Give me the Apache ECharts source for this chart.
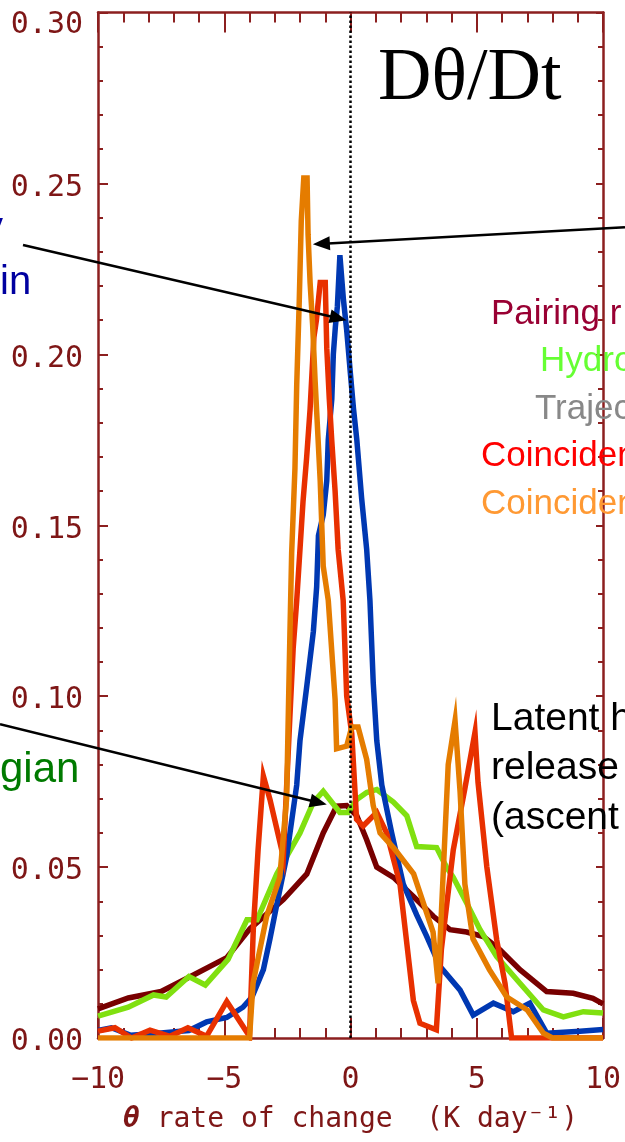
<!DOCTYPE html>
<html><head><meta charset="utf-8">
<script src="https://cdn.jsdelivr.net/npm/echarts@6/dist/echarts.min.js"></script>
<style>html,body{margin:0;padding:0;background:#fff;overflow:hidden}#c{width:625px;height:1142px}</style>
</head><body><div id="c"></div>
<script>
// ---- data ----
const maroonX = [-10,-8.8,-7.5,-6.2,-4.9,-3.98,-2.66,-1.73,-1.08,-0.55,-0.15,0.25,0.64,1.04,1.7,2.49,3.28,3.94,4.6,5.26,5.92,6.71,7.77,8.82,9.6,10];
const maroonY = [0.0085,0.0117,0.0136,0.0185,0.0235,0.032,0.0405,0.048,0.060,0.0678,0.068,0.065,0.058,0.050,0.047,0.0414,0.0356,0.0317,0.031,0.0297,0.0258,0.020,0.0136,0.0131,0.0116,0.0100];

const greenX = [-10,-8.8,-7.8,-7.3,-6.4,-5.75,-4.85,-4.1,-3.7,-2.92,-2.0,-1.47,-1.08,-0.42,-0.1,0.25,0.64,1.04,1.7,2.23,2.62,3.41,3.8,4.07,4.6,5.13,5.79,6.71,7.64,8.43,9.22,10];
const greenY = [0.0064,0.009,0.0126,0.012,0.018,0.0155,0.023,0.0346,0.0346,0.048,0.060,0.069,0.0722,0.066,0.066,0.0698,0.0718,0.0727,0.069,0.065,0.056,0.0557,0.050,0.047,0.0395,0.0317,0.0238,0.016,0.0082,0.0062,0.0077,0.0073];

const blueX = [-10,-9.47,-8.7,-7.5,-6.4,-5.7,-4.9,-4.26,-3.9,-3.45,-3.19,-2.92,-2.53,-2.13,-2.0,-1.73,-1.47,-1.34,-1.27,-1.08,-0.94,-0.88,-0.74,-0.68,-0.6,-0.52,-0.42,-0.28,-0.15,0,0.12,0.25,0.44,0.64,0.77,0.9,1.04,1.24,1.63,2.09,2.62,3.0,3.54,4.34,4.86,5.66,6.45,7.1,7.77,9.09,10];
const blueY = [0.0022,0.003,0.0008,0.0015,0.0022,0.0047,0.006,0.009,0.012,0.02,0.029,0.039,0.053,0.074,0.087,0.103,0.119,0.132,0.147,0.153,0.163,0.175,0.187,0.2,0.208,0.214,0.229,0.216,0.207,0.194,0.184,0.175,0.158,0.143,0.128,0.104,0.087,0.074,0.060,0.045,0.036,0.03,0.021,0.014,0.0067,0.0102,0.0077,0.0102,0.0014,0.002,0.0025];

const redX = [-10,-9.33,-8.67,-7.94,-7.15,-6.44,-5.7,-4.9,-4.0,-3.85,-3.66,-3.45,-3.19,-2.66,-2.4,-2.27,-2.13,-2.0,-1.88,-1.74,-1.6,-1.45,-1.35,-1.2,-1.0,-0.94,-0.84,-0.74,-0.61,-0.49,-0.29,-0.15,0.05,0.24,0.5,1.04,1.43,1.96,2.49,2.75,3.4,3.6,4.07,4.53,4.93,5.05,5.4,5.79,6.12,6.38,10];
const redY = [0.002,0.003,0.0,0.0023,0.0005,0.003,0.0005,0.0107,0.0005,0.0317,0.055,0.0766,0.0698,0.053,0.094,0.114,0.128,0.143,0.157,0.1695,0.184,0.205,0.21,0.221,0.221,0.2018,0.187,0.1745,0.16,0.143,0.128,0.10,0.089,0.064,0.062,0.066,0.060,0.045,0.011,0.0043,0.0024,0.026,0.055,0.073,0.0894,0.0748,0.050,0.0287,0.016,0.0,0.0];

const orangeX = [-10,-4.0,-3.86,-3.32,-2.8,-2.53,-2.4,-2.33,-2.2,-2.13,-2.03,-1.95,-1.85,-1.72,-1.68,-1.6,-1.5,-1.4,-1.2,-1.08,-0.88,-0.61,-0.55,-0.15,0.05,0.3,0.64,0.9,1.17,1.7,2.5,3.27,3.47,3.87,4.14,4.34,4.53,4.85,5.5,6.19,7.0,7.64,8.0,10];
const orangeY = [0,0,0.016,0.0356,0.047,0.07,0.118,0.142,0.1666,0.191,0.2155,0.239,0.2516,0.2516,0.235,0.221,0.2086,0.192,0.163,0.138,0.128,0.099,0.0846,0.0854,0.091,0.091,0.0815,0.068,0.060,0.0557,0.048,0.031,0.016,0.08,0.0928,0.072,0.045,0.029,0.020,0.012,0.0082,0.0014,0,0];

const xAxisName = '{t|\u03B8} rate of change  (K day\u207B\u00B9)';
const titleText = 'D\u03B8/Dt';
const legendLabels = ['Pairing r', 'Hydro', 'Trajec', 'Coinciden', 'Coinciden'];
const noteLines = ['Latent h', 'release', '(ascent'];
const leftLabels = ['y', 'in', 'gian'];
// annotation arrows in data coordinates (start, tip)
const arrowFrom = [[10.87, 0.2372], [-12.97, 0.232], [-13.88, 0.0918]];
const arrowTo   = [[-1.49, 0.2322], [-0.155, 0.2100], [-0.94, 0.0683]];

// ---- chart ----
const axisColor = '#8C1F1F';
const labelColor = '#7E1616';
const chart = echarts.init(document.getElementById('c'), null, {renderer: 'canvas'});
const pair = (xs, ys) => xs.map((x, i) => [x, ys[i]]);
const mkSeries = (name, xs, ys, color) => ({
  name, type: 'line', data: pair(xs, ys), showSymbol: false, symbol: 'none',
  lineStyle: {width: 5.5, color: color, join: 'miter'}, itemStyle: {color: color},
  silent: true, animation: false, xAxisIndex: 0, yAxisIndex: 0
});
const tickCommon = (len) => ({show: true, inside: true, length: len, lineStyle: {color: axisColor, width: 2}});
const minorCommon = (len) => ({show: true, splitNumber: 5, length: len, lineStyle: {color: axisColor, width: 2}});
const lineCommon = {show: true, onZero: false, lineStyle: {color: axisColor, width: 2.5}};
const minus = v => (v < 0 ? '\u2212' : '') + Math.abs(v);
const yFmt = v => v > 0.299 ? '{top|' + v.toFixed(2) + '}' : v.toFixed(2);

chart.setOption({
  animation: false,
  backgroundColor: '#fff',
  grid: {left: 98, right: 22, top: 12.5, bottom: 104, containLabel: false, outerBoundsMode: 'none'},
  xAxis: [
    {type: 'value', min: -10, max: 10, interval: 5, position: 'bottom',
     axisLine: lineCommon, axisTick: tickCommon(20), minorTick: minorCommon(10),
     splitLine: {show: false}, minorSplitLine: {show: false},
     axisLabel: {color: labelColor, fontFamily: 'DejaVu Sans Mono', fontSize: 30, margin: 27, formatter: minus},
     name: xAxisName, nameLocation: 'middle', nameGap: 68,
     nameTextStyle: {color: labelColor, fontFamily: 'DejaVu Sans Mono', fontSize: 28,
       rich: {t: {color: labelColor, fontFamily: 'DejaVu Sans Mono', fontSize: 28, fontWeight: 'bold', fontStyle: 'italic'}}}},
    {type: 'value', min: -10, max: 10, interval: 5, position: 'top',
     axisLine: lineCommon, axisTick: tickCommon(20), minorTick: minorCommon(10),
     splitLine: {show: false}, minorSplitLine: {show: false}, axisLabel: {show: false}}
  ],
  yAxis: [
    {type: 'value', min: 0, max: 0.3, interval: 0.05, position: 'left',
     axisLine: lineCommon, axisTick: tickCommon(10), minorTick: minorCommon(5),
     splitLine: {show: false}, minorSplitLine: {show: false},
     axisLabel: {color: labelColor, fontFamily: 'DejaVu Sans Mono', fontSize: 30, margin: 15,
       padding: [9, 0, 0, 0], formatter: yFmt,
       rich: {top: {color: labelColor, fontFamily: 'DejaVu Sans Mono', fontSize: 30, padding: [16, 0, 0, 0]}}}},
    {type: 'value', min: 0, max: 0.3, interval: 0.05, position: 'right',
     axisLine: lineCommon, axisTick: tickCommon(7), minorTick: minorCommon(5),
     splitLine: {show: false}, minorSplitLine: {show: false}, axisLabel: {show: false}}
  ],
  series: [
    mkSeries('Pairing', maroonX, maroonY, '#780000'),
    mkSeries('Hydro', greenX, greenY, '#80E010'),
    mkSeries('Blue', blueX, blueY, '#0038B2'),
    mkSeries('Red', redX, redY, '#E83000'),
    mkSeries('Orange', orangeX, orangeY, '#E57C00'),
    {name: 'zero', type: 'line', data: [], xAxisIndex: 0, yAxisIndex: 0, z: 10,
     markLine: {silent: true, animation: false, symbol: ['none', 'none'], label: {show: false},
       emphasis: {disabled: true},
       lineStyle: {color: '#000', type: [2.5, 2.5], width: 2.5, opacity: 1}, data: [{xAxis: 0}]}}
  ]
});

// ---- annotations ----
const g = [];
const sans = '"Liberation Sans", Arial, sans-serif';
const txt = (text, x, y, size, fill, family, align) => ({
  type: 'text', x: x, y: y, silent: true, z: 100,
  style: {text: text, fill: fill, font: size + 'px ' + (family || sans), align: align || 'left', verticalAlign: 'middle'}
});
g.push(txt(titleText, 378, 80, 74, '#000', '"Liberation Serif", "Times New Roman", serif'));
const legendColors = ['#990033', '#66FF33', '#888888', '#FF0000', '#FF9933'];
const legendX = [491, 540, 535, 481, 481];
legendLabels.forEach((t, i) => g.push(txt(t, legendX[i], 314 + i * 47.5, 35, legendColors[i])));
noteLines.forEach((t, i) => g.push(txt(t, 491, 719 + i * 49.5, 39, '#000')));
g.push(txt(leftLabels[0], 3, 229, 40, '#0000A0', sans, 'right'));
g.push(txt(leftLabels[1], 0, 283, 40, '#0000A0'));
g.push(txt(leftLabels[2], 0, 770, 42, '#007A00'));

arrowFrom.forEach((f, i) => {
  const p1 = chart.convertToPixel({gridIndex: 0}, f);
  const p2 = chart.convertToPixel({gridIndex: 0}, arrowTo[i]);
  const dx = p2[0] - p1[0], dy = p2[1] - p1[1];
  const L = Math.sqrt(dx * dx + dy * dy), ux = dx / L, uy = dy / L;
  const hl = 17, hw = 7;
  const bx = p2[0] - ux * hl, by = p2[1] - uy * hl;
  g.push({type: 'line', silent: true, z: 100, shape: {x1: p1[0], y1: p1[1], x2: bx + ux * 2, y2: by + uy * 2},
          style: {stroke: '#000', lineWidth: 2.5}});
  g.push({type: 'polygon', silent: true, z: 100,
          shape: {points: [[p2[0], p2[1]], [bx - uy * hw, by + ux * hw], [bx + uy * hw, by - ux * hw]]},
          style: {fill: '#000'}});
});
chart.setOption({graphic: g});
</script>
</body></html>
